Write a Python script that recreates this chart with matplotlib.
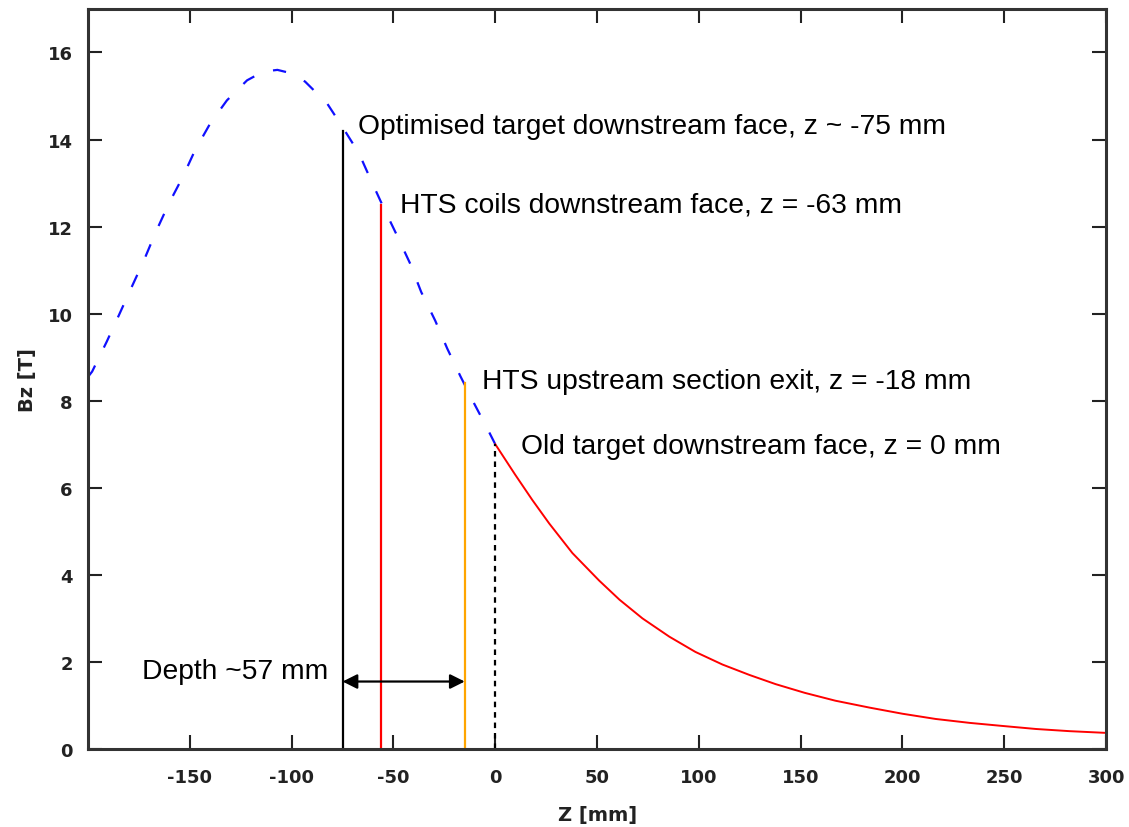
#!/usr/bin/env python3

import matplotlib.pyplot as plt
import numpy as np


# field profile: upstream part (dashed) and downstream part (solid)
z_up = [-200, -198, -190.8, -185, -178.5, -172.6, -166.7, -160.3, -153.4, -147.5,
        -140, -131.8, -121.9, -114, -107, -100, -93.4, -82.6, -75.2, -66.9,
        -61, -54.6, -48.2, -41.8, -36.4, -29.5, -23.6, -17.2, -10.3, -3.9, 0]
bz_up = [8.55, 8.67, 9.36, 9.95, 10.62, 11.22, 11.88, 12.53, 13.15, 13.75,
         14.37, 14.9, 15.36, 15.56, 15.6, 15.52, 15.33, 14.83, 14.3, 13.68,
         13.06, 12.41, 11.79, 11.15, 10.5, 9.84, 9.2, 8.57, 7.93, 7.36, 7.0]

z_down = [0, 1, 9.8, 18.2, 26.5, 37.9, 51, 61, 72.3, 85.5, 98.3, 111.6, 124.9,
          137.7, 152, 167, 183.9, 200, 216.3, 233, 249, 265.5, 282, 300]
bz_down = [7.0, 6.93, 6.3, 5.72, 5.18, 4.5, 3.87, 3.43, 3.0, 2.58, 2.23, 1.94, 1.7,
           1.49, 1.29, 1.11, 0.95, 0.81, 0.69, 0.6, 0.53, 0.46, 0.41, 0.37]

# marker lines: position, top value, colour, style, label, label anchor
marker_z = [-75, -56, -15, 0]
marker_top = [14.2, 12.5, 8.4, 7.0]
marker_color = ["black", "#ff0000", "#ffa500", "black"]
marker_style = ["-", "-", "-", (0, (2.5, 2.2))]
marker_text = [
    "Optimised target downstream face, z ~ -75 mm",
    "HTS coils downstream face, z = -63 mm",
    "HTS upstream section exit, z = -18 mm",
    "Old target downstream face, z = 0 mm",
]
text_z = [-67.5, -47, -6.5, 12.5]
text_bz = [14.3, 12.5, 8.45, 6.97]

depth_z = [-75, -15]
depth_bz = 1.55

plt.rcParams["font.family"] = ["Liberation Sans", "DejaVu Sans"]
plt.rcParams["axes.unicode_minus"] = False

fig = plt.figure(figsize=(11.29, 8.28), dpi=100)
ax = fig.add_axes([0.078, 0.0942, 0.9017, 0.8938])

ax.plot(z_up, bz_up, color="#1010ff", lw=1.6, dashes=(6.0, 9.0))
ax.plot(z_down, bz_down, color="#ff0000", lw=1.4)

for z, top, c, ls in zip(marker_z, marker_top, marker_color, marker_style):
    ax.plot([z, z], [0, top], color=c, lw=1.6, ls=ls)

for t, x, y in zip(marker_text, text_z, text_bz):
    ax.text(x, y, t, fontsize=20.3, va="center", ha="left", color="black")

ax.annotate("", xy=(depth_z[1], depth_bz), xytext=(depth_z[0], depth_bz),
            arrowprops=dict(arrowstyle="<|-|>", color="black", lw=1.6,
                            mutation_scale=22, shrinkA=0, shrinkB=0))
ax.text(-173.5, 1.79, "Depth ~57 mm", fontsize=20.3, va="center", ha="left")

ax.set_xlim(-200, 300)
ax.set_ylim(0, 17)
ax.set_xticks(np.arange(-150, 301, 50))
ax.set_yticks(np.arange(0, 17, 2))

for s in ax.spines.values():
    s.set_linewidth(2.2)
    s.set_color("#333333")
ax.tick_params(direction="in", length=10, width=1.5, color="#222222",
               top=True, right=True, labelsize=13, labelcolor="#222222")
ax.tick_params(axis="x", pad=14)
ax.tick_params(axis="y", pad=11)
for lab in ax.get_xticklabels() + ax.get_yticklabels():
    lab.set_family("DejaVu Sans")
    lab.set_fontweight("bold")

ax.set_xlabel("Z [mm]", fontsize=14, fontweight="bold", family="DejaVu Sans",
              color="#222222", labelpad=13)
ax.set_ylabel("Bz [T]", fontsize=14, fontweight="bold", family="DejaVu Sans",
              color="#222222", labelpad=8)

fig.savefig("out.png", dpi=100)
plt.close(fig)
